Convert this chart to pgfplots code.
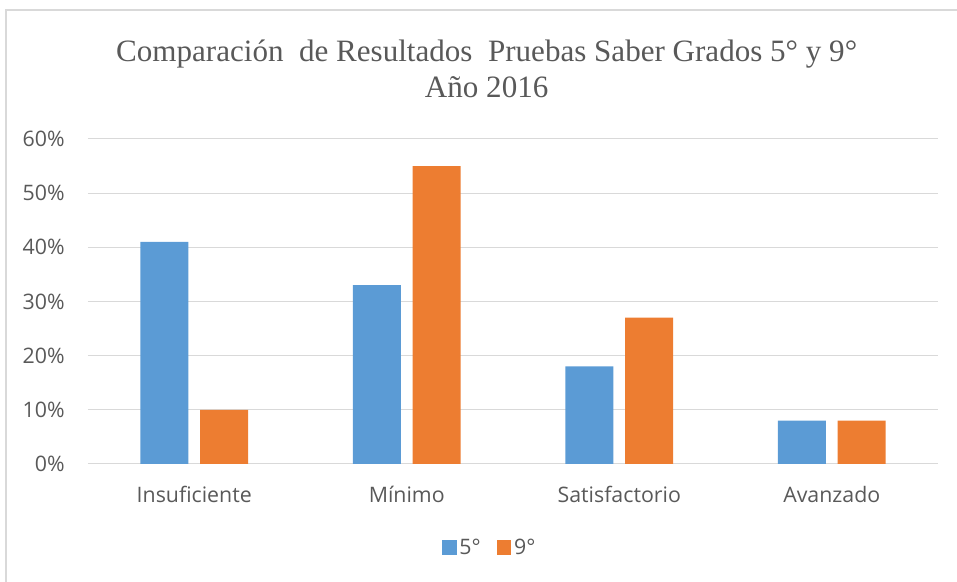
\documentclass[border=0pt]{standalone}
\usepackage{pgfplots}
\pgfplotsset{compat=1.18}
\usepackage{fontspec}
\setmainfont{Liberation Serif}
\newfontfamily\uifont{Open Sans}
\definecolor{barblue}{HTML}{5B9BD5}
\definecolor{barorange}{HTML}{ED7D31}
\definecolor{txtgray}{HTML}{595959}
\definecolor{gridgray}{HTML}{D9D9D9}
\begin{document}
\begin{tikzpicture}[x=1pt,y=1pt]
\path[use as bounding box] (0,0) rectangle (717.75,436.5);
\draw[gridgray, line width=1.2pt] (4.5,0) -- (4.5,429) -- (717.75,429);
\node[txtgray, align=center, font=\fontsize{23.3}{27}\selectfont] at (365,385)
  {Comparación~ de Resultados~ Pruebas Saber Grados 5° y 9°\\Año 2016};
\begin{axis}[
  at={(66pt,88.5pt)}, anchor=south west,
  scale only axis, width=637.5pt, height=243.75pt,
  xmin=-0.5, xmax=3.5, ymin=0, ymax=60,
  axis line style={draw=none},
  ymajorgrids, grid style={gridgray, line width=0.75pt},
  ytick={0,10,20,30,40,50,60},
  yticklabel={\pgfmathprintnumber{\tick}\%},
  xtick={0,1,2,3},
  xticklabels={Insuficiente, Mínimo, Satisfactorio, Avanzado},
  major tick length=0pt,
  tick label style={txtgray, font=\uifont\fontsize{16}{19}\selectfont},
  /pgf/number format/assume math mode=true,
  xticklabel style={yshift=-13pt},
  yticklabel style={xshift=-14pt},
  legend style={at={(0.473,-0.258)}, anchor=center, draw=none,
    legend columns=2, font=\uifont\fontsize{16}{19}\selectfont, text=txtgray,
    /tikz/every even column/.append style={column sep=10pt}},
  ybar, bar width=0.226,
  clip=false,
]
\addplot[fill=barblue, draw=none, bar shift=-0.141,
  legend image code/.code={\fill[barblue] (0pt,-5pt) rectangle (11pt,6pt);}]
  coordinates {(0,41) (1,33) (2,18) (3,8)};
\addplot[fill=barorange, draw=none, bar shift=0.141,
  legend image code/.code={\fill[barorange] (0pt,-5pt) rectangle (11pt,6pt);}]
  coordinates {(0,10) (1,55) (2,27) (3,8)};
\legend{5°, 9°}
\end{axis}
\end{tikzpicture}
\end{document}
